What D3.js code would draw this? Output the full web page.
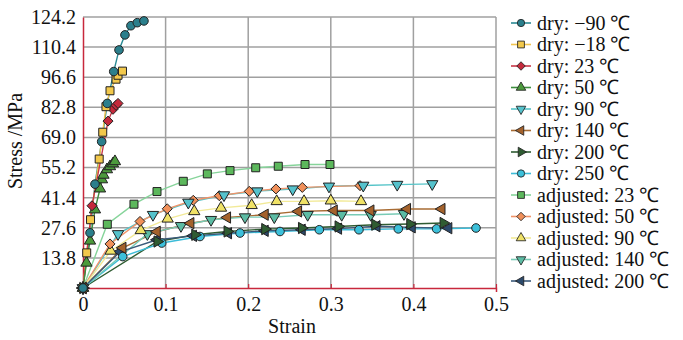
<!DOCTYPE html>
<html><head><meta charset="utf-8">
<script src="https://cdn.jsdelivr.net/npm/d3@7"></script>
<style>body{margin:0;background:#fff;}</style></head>
<body><svg id="c" width="683" height="340"></svg>
<script>
// ---- data (strain, stress MPa) ----
const labels = ["dry: \u221290 \u2103","dry: \u221218 \u2103","dry: 23 \u2103","dry: 50 \u2103","dry: 90 \u2103","dry: 140 \u2103","dry: 200 \u2103","dry: 250 \u2103","adjusted: 23 \u2103","adjusted: 50 \u2103","adjusted: 90 \u2103","adjusted: 140 \u2103","adjusted: 200 \u2103"];
const yTicks = [13.8,27.6,41.4,55.2,69.0,82.8,96.6,110.4,124.2];
const xTicks = [0,0.1,0.2,0.3,0.4,0.5];
const dryNeg90 = [[0,0],[0.0085,25.3],[0.0145,47.6],[0.0226,67.1],[0.0294,84.6],[0.0372,99.2],[0.0436,109.1],[0.0508,116.0],[0.058,120.2],[0.0657,121.6],[0.0738,122.4]];
const dryNeg18 = [[0,0],[0.0045,16.1],[0.0091,31.3],[0.0196,59.1],[0.0239,71.4],[0.0278,83.1],[0.0327,90.4],[0.0400,95.7],[0.0424,97.5],[0.0478,99.4]];
const dry23 = [[0,0],[0.0109,37.7],[0.0303,76.5],[0.0363,81.9],[0.0400,83.7],[0.0424,84.6]];
const dry50 = [[0,0],[0.0042,11.5],[0.0085,21.6],[0.0145,35.9],[0.0206,45.5],[0.0230,49.7],[0.0248,51.8],[0.0290,54.3],[0.0327,55.7],[0.0363,57.0],[0.0387,58.0]];
const dry90 = [[0,0],[0.0424,24.8],[0.0847,33.6],[0.1275,39.2],[0.1707,42.6],[0.2110,44.4],[0.2539,45.3],[0.2978,46.6],[0.3393,47.0],[0.3804,47.4],[0.4228,47.7]];
const dry140 = [[0,0],[0.0481,18.4],[0.0896,25.8],[0.1303,29.7],[0.1747,32.3],[0.2203,33.6],[0.2607,35.1],[0.3039,35.5],[0.3483,35.5],[0.3926,36.2],[0.4343,36.2]];
const dry200 = [[0,0],[0.0899,21.3],[0.1356,24.4],[0.1747,25.9],[0.2203,27.0],[0.2648,27.5],[0.3091,28.2],[0.3535,29.0],[0.3959,29.3],[0.4362,29.8]];
const dry250 = [[0,0],[0.0481,14.4],[0.0953,20.6],[0.1416,23.6],[0.1901,25.2],[0.2385,25.9],[0.2861,26.7],[0.3341,26.7],[0.3817,27.1],[0.4281,27.1],[0.4758,27.5]];
const adj23 = [[0,0],[0.0294,29.2],[0.0617,38.4],[0.0896,44.2],[0.1214,48.9],[0.1505,52.3],[0.1780,53.8],[0.2091,55.1],[0.2364,55.8],[0.2688,56.6],[0.2990,56.6]];
const adj50 = [[0,0],[0.0327,20.2],[0.0690,30.5],[0.1020,36.3],[0.1335,40.2],[0.1650,42.3],[0.2013,44.3],[0.2336,45.4],[0.2655,46.1],[0.3354,46.9]];
const adj90 = [[0,0],[0.0335,17.0],[0.0699,26.4],[0.1025,31.7],[0.1347,35.1],[0.1671,36.7],[0.2042,37.9],[0.2345,39.7],[0.2676,39.7],[0.3000,40.0],[0.3366,39.7]];
const adj140 = [[0,0],[0.0779,24.8],[0.1186,28.5],[0.1550,31.3],[0.1961,32.5],[0.2316,32.5],[0.2720,33.6],[0.3132,33.6],[0.3483,33.6],[0.3886,34.0]];
const adj200 = [[0,0],[0.0448,16.6],[0.0896,22.1],[0.1335,23.9],[0.1759,25.1],[0.2203,26.2],[0.2651,26.7],[0.3091,27.2],[0.3556,28.3],[0.3983,27.8],[0.4426,27.4]];

const seriesData = [dryNeg90,dryNeg18,dry23,dry50,dry90,dry140,dry200,dry250,adj23,adj50,adj90,adj140,adj200];
// ---- styles ----
const fills = ["#2b7f8c","#f2c84b","#c42a3c","#4c9a3c","#55c2cc","#a4622c","#2f5c32","#3cc0da","#5cb85c","#f0905a","#f0e266","#5cbca4","#2c4a6c"];
const strokes = ["#2a8a94","#f0c450","#c83848","#3f8f3f","#55c4c8","#a86c34","#2f5c32","#3cbcd8","#86d49a","#f0946a","#f2ea98","#78cbb6","#3a5a7a"];
const shapes = ["circle","square","diamond","up","down","left","right","circle","square","diamond","up","down","left"];
const FONT = '"Liberation Serif"';

const svg = d3.select("#c");
const x = d3.scaleLinear().domain([0,0.5]).range([83,496]);
const y = d3.scaleLinear().domain([0,124.2]).range([288,17]);

// grid
const g = svg.append("g");
g.selectAll("line.h").data(yTicks).enter().append("line")
 .attr("x1",x(0)).attr("x2",x(0.5)).attr("y1",d=>y(d)).attr("y2",d=>y(d))
 .attr("stroke","#a0a0a0").attr("stroke-width",1.5);
g.selectAll("line.v").data(xTicks.slice(1)).enter().append("line")
 .attr("x1",d=>x(d)).attr("x2",d=>x(d)).attr("y1",y(0)).attr("y2",y(124.2))
 .attr("stroke","#a0a0a0").attr("stroke-width",1.5);

// axes
const xAxis = d3.axisBottom(x).tickValues(xTicks).tickFormat(d=>d===0?"0":d3.format(".1f")(d)).tickSize(4).tickPadding(4);
const yAxis = d3.axisLeft(y).tickValues([0].concat(yTicks)).tickFormat(d=>d===0?"":d3.format(".1f")(d)).tickSize(0).tickPadding(7);
const gx = svg.append("g").attr("transform",`translate(0,${y(0)})`).call(xAxis);
gx.select(".domain").attr("stroke","#c8283c").attr("stroke-width",1.5);
gx.selectAll(".tick line").attr("stroke","#c8283c").attr("stroke-width",1.2).attr("y2",-4);
gx.selectAll(".tick text").attr("font-size",20).attr("fill","#111").attr("dy","0.75em").style("font-family",FONT);
const gy = svg.append("g").attr("transform",`translate(${x(0)},0)`).call(yAxis);
gy.select(".domain").attr("stroke","#c8283c").attr("stroke-width",1.5);
gy.selectAll(".tick text").attr("font-size",20).attr("fill","#111").style("font-family",FONT);

svg.append("text").attr("x",292).attr("y",333).attr("text-anchor","middle").attr("font-size",20).attr("fill","#111").style("font-family",FONT).text("Strain");
svg.append("text").attr("transform","translate(22,141) rotate(-90)").attr("text-anchor","middle").attr("font-size",20).attr("fill","#111").style("font-family",FONT).text("Stress /MPa");

function symPath(shape){
  switch(shape){
    case "circle": return d3.symbol(d3.symbolCircle,58)();
    case "square": return d3.symbol(d3.symbolSquare,64)();
    case "diamond": return "M0,-5L5,0L0,5L-5,0Z";
    default: return d3.symbol(d3.symbolTriangle,55)();
  }
}
function rot(shape){return shape==="down"?180:shape==="left"?-90:shape==="right"?90:0;}

const line = d3.line().x(d=>x(d[0])).y(d=>y(d[1]));
const plot = svg.append("g");
seriesData.forEach((s,i)=>{
  plot.append("path").datum(s).attr("d",line).attr("fill","none").attr("stroke",strokes[i]).attr("stroke-width",1.4);
});
for(let i=seriesData.length-1;i>=0;i--){
  plot.append("g").selectAll("path").data(seriesData[i]).enter().append("path")
   .attr("d",symPath(shapes[i]))
   .attr("transform",d=>`translate(${x(d[0])},${y(d[1])}) rotate(${rot(shapes[i])})`)
   .attr("fill",fills[i]).attr("stroke","#222").attr("stroke-width",1);
}

// legend
const lg = svg.append("g");
labels.forEach((t,i)=>{
  const yy = 23 + i*21.5;
  lg.append("line").attr("x1",511).attr("x2",531).attr("y1",yy).attr("y2",yy).attr("stroke",strokes[i]).attr("stroke-width",1.6);
  lg.append("path").attr("d",symPath(shapes[i])).attr("transform",`translate(521,${yy}) rotate(${rot(shapes[i])}) scale(0.85)`)
    .attr("fill",fills[i]).attr("stroke","#222").attr("stroke-width",1);
  lg.append("text").attr("x",537).attr("y",yy).attr("dy","0.33em").attr("font-size",20).attr("fill","#111").style("font-family",FONT).text(t);
});
</script></body></html>
